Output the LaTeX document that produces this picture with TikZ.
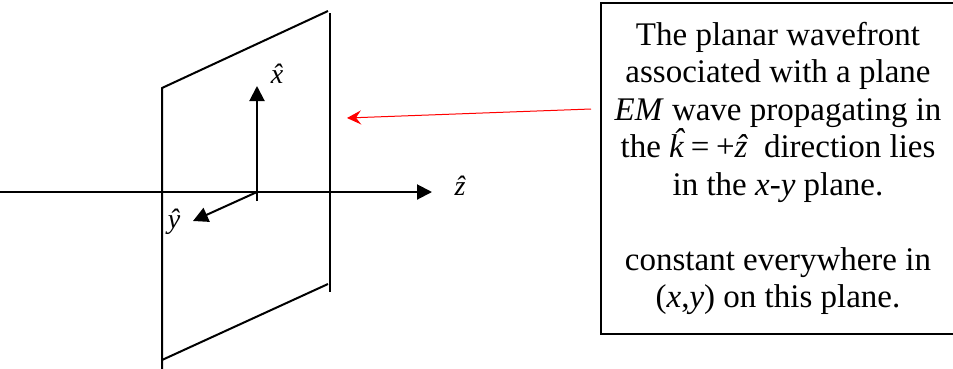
\RequirePackage{fix-cm}
\documentclass[tikz,border=0pt]{standalone}
\usepackage{fontspec}
\setmainfont{Liberation Serif}
\usetikzlibrary{arrows.meta}
\newcommand{\unitvec}[1]{\textit{\accent"02C6 #1}}
\begin{document}
\begin{tikzpicture}[x=1pt, y=-1pt, line cap=butt, line join=miter,
    edge/.style={line width=2pt},
    axis/.style={line width=2pt, -{Triangle[length=15pt,width=15pt]}},
    pointer/.style={red, line width=1pt, -{Stealth[length=14pt,width=14pt,inset=5pt]}},
    lbl/.style={inner sep=0pt, font=\fontsize{28}{32}\selectfont},
    note/.style={draw, line width=2pt, align=center, minimum width=354pt,
      minimum height=331pt, inner sep=0pt, font=\fontsize{33}{37.5}\selectfont}]
  \useasboundingbox (0,0) rectangle (953,368);
  % the wavefront plane
  \coordinate (pTL) at (162,88);
  \coordinate (pBL) at (162,370);
  \coordinate (pTR) at (328,11);
  \coordinate (pBR) at (328,284);
  \coordinate (rTop) at (330,13);
  \coordinate (rBot) at (330,292);
  \draw[edge] (pBL) -- (pTL) -- (pTR);
  \draw[edge] (rTop) -- (rBot);
  \draw[edge] (162,360) -- (pBR);
  % the axes
  \coordinate (o) at (257,192);
  \coordinate (zStart) at (0,192);
  \coordinate (zTip) at (432,192);
  \coordinate (xTip) at (257,86);
  \coordinate (yTip) at (193,221);
  \draw[axis] (zStart) -- (zTip);
  \draw[axis] (257,201) -- (xTip);
  \draw[axis] (o) -- (yTip);
  \node[lbl] (zLbl) at (460,186) {\unitvec{z}};
  \node[lbl] (xLbl) at (277,74) {\unitvec{x}};
  \node[lbl] (yLbl) at (174,222) {\unitvec{y}};
  % the note and its pointer
  \node[note] (box) at (778,168.5) {The planar wavefront\\
    associated with a plane\\
    \textit{EM} wave propagating in\\
    the \unitvec{k}\kern0.2em=\kern0.2em+\unitvec{z}\kern0.25em\ direction lies\\
    in the \textit{x}-\textit{y} plane.\\[37.5pt]
    constant everywhere in\\
    (\textit{x},\textit{y}) on this plane.};
  \coordinate (aim) at (347,118);
  \draw[pointer] ([xshift=-9pt,yshift=59.5pt]box.west) -- (aim);
\end{tikzpicture}
\end{document}
